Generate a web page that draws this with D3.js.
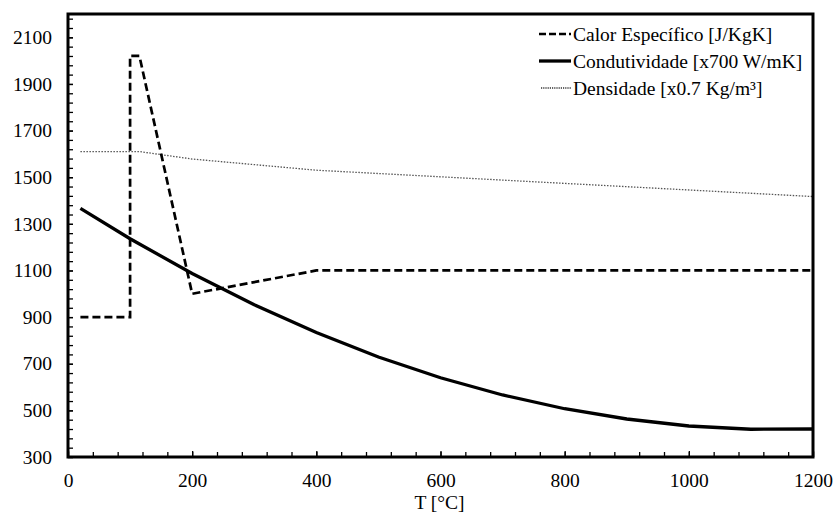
<!DOCTYPE html>
<html><head><meta charset="utf-8">
<script src="https://cdn.jsdelivr.net/npm/d3@7"></script>
<style>body{margin:0;background:#fff}svg{display:block}text{font-family:"Liberation Serif","Times New Roman",serif;fill:#000}</style>
</head><body><svg id="c" width="834" height="516"></svg>
<script>
// Data
const cpT = [20, 100, 100, 115, 200, 400, 1200];
const cpV = [900, 900, 2020, 2020, 1000, 1100, 1100];
const kT = [20, 100, 200, 300, 400, 500, 600, 700, 800, 900, 1000, 1100, 1200];
const kV = [1366, 1236, 1087, 953, 834, 729, 640, 566, 507, 463, 433, 419, 420];
const rhoT = [20, 115, 200, 400, 1200];
const rhoV = [1610, 1610, 1578, 1530, 1417];
const xTickLabels = [0, 200, 400, 600, 800, 1000, 1200];
const yTickLabels = [300, 500, 700, 900, 1100, 1300, 1500, 1700, 1900, 2100];
const seriesNames = ["Calor Específico [J/KgK]", "Condutividade [x700 W/mK]", "Densidade [x0.7 Kg/m³]"];
const xTitle = "T [°C]";

const svg = d3.select("#c");
const L = 68, R = 813, T = 14, B = 457;
const x = d3.scaleLinear().domain([0, 1200]).range([L, R]);
const y = d3.scaleLinear().domain([300, 2200]).range([B, T]);
const fs = 19.5;

// minor ticks
const xMinor = d3.range(0, 1201, 40);
const yMinor = d3.range(300, 2200, 40);
const gx = svg.append("g").attr("transform", `translate(0,${B})`)
  .call(d3.axisBottom(x).tickValues(xMinor).tickSize(-5).tickFormat(""));
const gy = svg.append("g").attr("transform", `translate(${L},0)`)
  .call(d3.axisLeft(y).tickValues(yMinor).tickSize(-5).tickFormat(""));
[gx, gy].forEach(g => { g.select(".domain").remove(); g.selectAll("line").attr("stroke", "#000").attr("stroke-width", 1.3); });

// labelled axes
const gxl = svg.append("g").attr("transform", `translate(0,${B})`)
  .call(d3.axisBottom(x).tickValues(xTickLabels).tickSize(-6).tickPadding(16).tickFormat(d3.format("d")));
const gyl = svg.append("g").attr("transform", `translate(${L},0)`)
  .call(d3.axisLeft(y).tickValues(yTickLabels).tickSize(-5).tickPadding(16).tickFormat(d3.format("d")));
[gxl, gyl].forEach(g => {
  g.select(".domain").remove();
  g.selectAll("line").attr("stroke", "#000").attr("stroke-width", 1.3);
  g.selectAll("text").attr("font-size", fs).attr("fill", "#000");
});

const line = d3.line().x(d => x(d[0])).y(d => y(d[1]));
svg.append("clipPath").attr("id", "pc").append("rect").attr("x", L).attr("y", T).attr("width", R - L).attr("height", B - T);
const plot = svg.append("g").attr("clip-path", "url(#pc)");

const styles = [
  {stroke: "#000", w: 2.7, dash: "8,4"},
  {stroke: "#000", w: 3.3, dash: null},
  {stroke: "#555", w: 1.3, dash: "1.5,1.5"}
];
const series = [d3.zip(cpT, cpV), d3.zip(kT, kV), d3.zip(rhoT, rhoV)];
[2, 1, 0].forEach(i => {
  const st = styles[i];
  plot.append("path").datum(series[i]).attr("d", line).attr("fill", "none")
    .attr("stroke", st.stroke).attr("stroke-width", st.w)
    .attr("stroke-dasharray", st.dash).attr("stroke-linejoin", "miter");
});

// frame
svg.append("rect").attr("x", L).attr("y", T).attr("width", R - L).attr("height", B - T)
  .attr("fill", "none").attr("stroke", "#000").attr("stroke-width", 3);

// legend
const lg = svg.append("g");
const rowsY = [34, 61, 88];
seriesNames.forEach((n, i) => {
  const st = styles[i];
  lg.append("line").attr("x1", i === 2 ? 541 : 539).attr("x2", 571).attr("y1", rowsY[i]).attr("y2", rowsY[i])
    .attr("stroke", i === 2 ? "#333" : st.stroke).attr("stroke-width", st.w)
    .attr("stroke-dasharray", i === 0 ? "7,3" : (i === 2 ? "1.2,1" : null));
  lg.append("text").attr("x", 573).attr("y", rowsY[i]).attr("dy", "0.35em").attr("font-size", fs).text(n);
});

svg.append("text").attr("x", (L + R) / 2 - 1).attr("y", 509).attr("text-anchor", "middle").attr("font-size", fs).text(xTitle);
</script></body></html>
